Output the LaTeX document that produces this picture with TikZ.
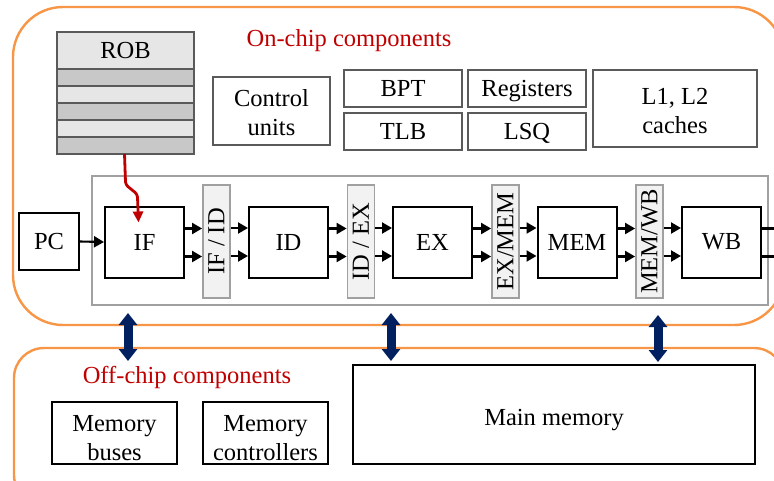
\documentclass[tikz,border=0pt]{standalone}
\usepackage{fontspec}
\setmainfont{Liberation Serif}
\usetikzlibrary{arrows.meta,calc}
\definecolor{chiporange}{RGB}{247,150,70}
\definecolor{labelred}{RGB}{192,0,0}
\definecolor{busblue}{RGB}{0,32,96}
\definecolor{regfill}{RGB}{242,242,242}
\definecolor{regline}{RGB}{160,160,160}
\definecolor{roblight}{RGB}{230,230,230}
\definecolor{robdark}{RGB}{200,200,200}
\definecolor{compline}{RGB}{90,90,90}
\tikzset{
  chipline/.style={draw=chiporange, line width=2.4pt},
  stagebox/.style={draw=black, line width=2pt, fill=white, minimum width=79pt, minimum height=71pt, inner sep=0pt},
  regbox/.style={draw=regline, line width=1.8pt, fill=regfill, minimum width=27pt, minimum height=113pt, inner sep=0pt},
  reglabel/.style={rotate=90, inner sep=0pt},
  compbox/.style={draw=compline, line width=1.1pt, inner sep=0pt, align=center, text height=20pt, text depth=4pt},
  compframe/.style={draw=compline, line width=1.1pt, inner sep=0pt},
  offbox/.style={draw=black, line width=1.2pt, inner sep=0pt, align=center, text height=27pt, text depth=6pt},
  offframe/.style={draw=black, line width=1.2pt, inner sep=0pt},
  twoline/.style={align=center, inner sep=0pt},
  flow/.style={draw=black, line width=2.1pt, -{Triangle[length=10pt,width=11pt]}},
  robarrow/.style={draw=labelred, line width=2.8pt, -{Triangle[length=11pt,width=10pt]}},
  busarrow/.style={draw=busblue, line width=9pt, {Triangle[length=12pt,width=18pt]}-{Triangle[length=12pt,width=18pt]}},
  title/.style={text=labelred, inner sep=0pt},
}
\begin{document}
\begin{tikzpicture}[x=1pt, y=-1pt, font=\fontsize{24.5}{29}\selectfont]
\useasboundingbox (0,0) rectangle (774,480);
\clip (0,0) rectangle (774,480);

% on-chip and off-chip regions
\draw[chipline, rounded corners=50pt] (13,7) rectangle (784,325);
\draw[chipline, rounded corners=30pt] (14,348) rectangle (784,505);

% reorder buffer
\node[draw=compline, line width=1.1pt, fill=roblight, minimum width=137pt, minimum height=122pt, inner sep=0pt] (rob) at (125.5,93) {};
\foreach \y in {69,103,137} {
  \fill[robdark] (57,\y) rectangle (194,\y+17);
}
\foreach \y in {69,86,103,120,137} {
  \draw[compline, line width=1.1pt] (57,\y) -- (194,\y);
}
\draw[compline, line width=1.1pt] (57,32) rectangle (194,154);
\node[inner sep=0pt] (robhead) at (125.5,51) {ROB};

% on-chip components
\node[title] (ontitle) at (349,41) {On-chip components};
\node[compframe, minimum width=117pt, minimum height=68pt] (ctrl) at (271.5,111) {};
\node[twoline] (ctrltext) at ($(ctrl.center)+(0,1.5)$) {Control\\units};
\node[compbox, minimum width=118pt, minimum height=37pt] (bpt) at (403,88.5) {BPT};
\node[compbox, minimum width=118pt, minimum height=37pt] (tlb) at (403,131.5) {TLB};
\node[compbox, minimum width=118pt, minimum height=37pt] (regs) at (527,88.5) {Registers};
\node[compbox, minimum width=118pt, minimum height=37pt] (lsq) at (527,131.5) {LSQ};
\node[compframe, minimum width=164pt, minimum height=77pt] (cache) at (675,108.5) {};
\node[twoline] (cachetext) at ($(cache.center)+(0,3)$) {L1, L2\\caches};

% pipeline frame
\draw[regline, line width=1.5pt] (92,176) rectangle (768,305);

% pipeline stages and latches
\node[draw=black, line width=2pt, minimum width=60pt, minimum height=57pt, inner sep=0pt] (pc) at (49,241.5) {PC};
\node[stagebox] (if) at (144.5,242) {IF};
\node[regbox] (ifid) at (216.5,241.5) {};
\node[reglabel] at (ifid.center) {IF / ID};
\node[stagebox] (id) at (288.5,242) {ID};
\node[regbox] (idex) at (361,241.5) {};
\node[reglabel] at (idex.center) {ID / EX};
\node[stagebox] (ex) at (432.5,242) {EX};
\node[regbox] (exmem) at (505.5,241.5) {};
\node[reglabel] at (exmem.center) {EX/MEM};
\node[stagebox] (mem) at (577,242) {MEM};
\node[regbox] (memwb) at (649.5,241.5) {};
\node[reglabel] at (memwb.center) {MEM/WB};
\node[stagebox] (wb) at (721.5,242) {WB};

\draw[flow] (pc.east) -- (if.west);
\foreach \a/\b in {if/ifid, ifid/id, id/idex, idex/ex, ex/exmem, exmem/mem, mem/memwb, memwb/wb} {
  \draw[flow] ($(\a.east)+(0,-13.5)$) -- ($(\b.west |- \a.east)+(0,-13.5)$);
  \draw[flow] ($(\a.east)+(0,14.5)$) -- ($(\b.west |- \a.east)+(0,14.5)$);
}
\coordinate (wbout) at (790,242);
\draw[black, line width=2.1pt] ($(wb.east)+(0,-13.5)$) -- ($(wbout)+(0,-13.5)$);
\draw[black, line width=2.1pt] ($(wb.east)+(0,14.5)$) -- ($(wbout)+(0,14.5)$);

% ROB feeds instruction fetch
\coordinate (robtip) at ($(if.north)+(-6,17)$);
\draw[robarrow] (124.5,154) -- (125.5,182) to[out=-80,in=100] (137.5,197) -- (robtip);

% off-chip components
\node[title] (offtitle) at (187,377) {Off-chip components};
\node[offframe, minimum width=125pt, minimum height=62pt] (buses) at (114.5,433) {};
\node[twoline] (busestext) at ($(buses.center)+(0,5)$) {Memory\\buses};
\node[offframe, minimum width=125pt, minimum height=62pt] (mctrl) at (265.5,433) {};
\node[twoline] (mctrltext) at ($(mctrl.center)+(0,5)$) {Memory\\controllers};
\node[offbox, minimum width=402pt, minimum height=99pt] (mainmem) at (554,414.5) {Main memory};

% buses between the chip and memory
\coordinate (bus1top) at (128,313);
\coordinate (bus1bot) at (128,361);
\coordinate (bus2top) at (391,313);
\coordinate (bus2bot) at (391,361);
\coordinate (bus3top) at (658,315);
\coordinate (bus3bot) at (658,362);
\draw[busarrow] (bus1top) -- (bus1bot);
\draw[busarrow] (bus2top) -- (bus2bot);
\draw[busarrow] (bus3top) -- (bus3bot);
\end{tikzpicture}
\end{document}
